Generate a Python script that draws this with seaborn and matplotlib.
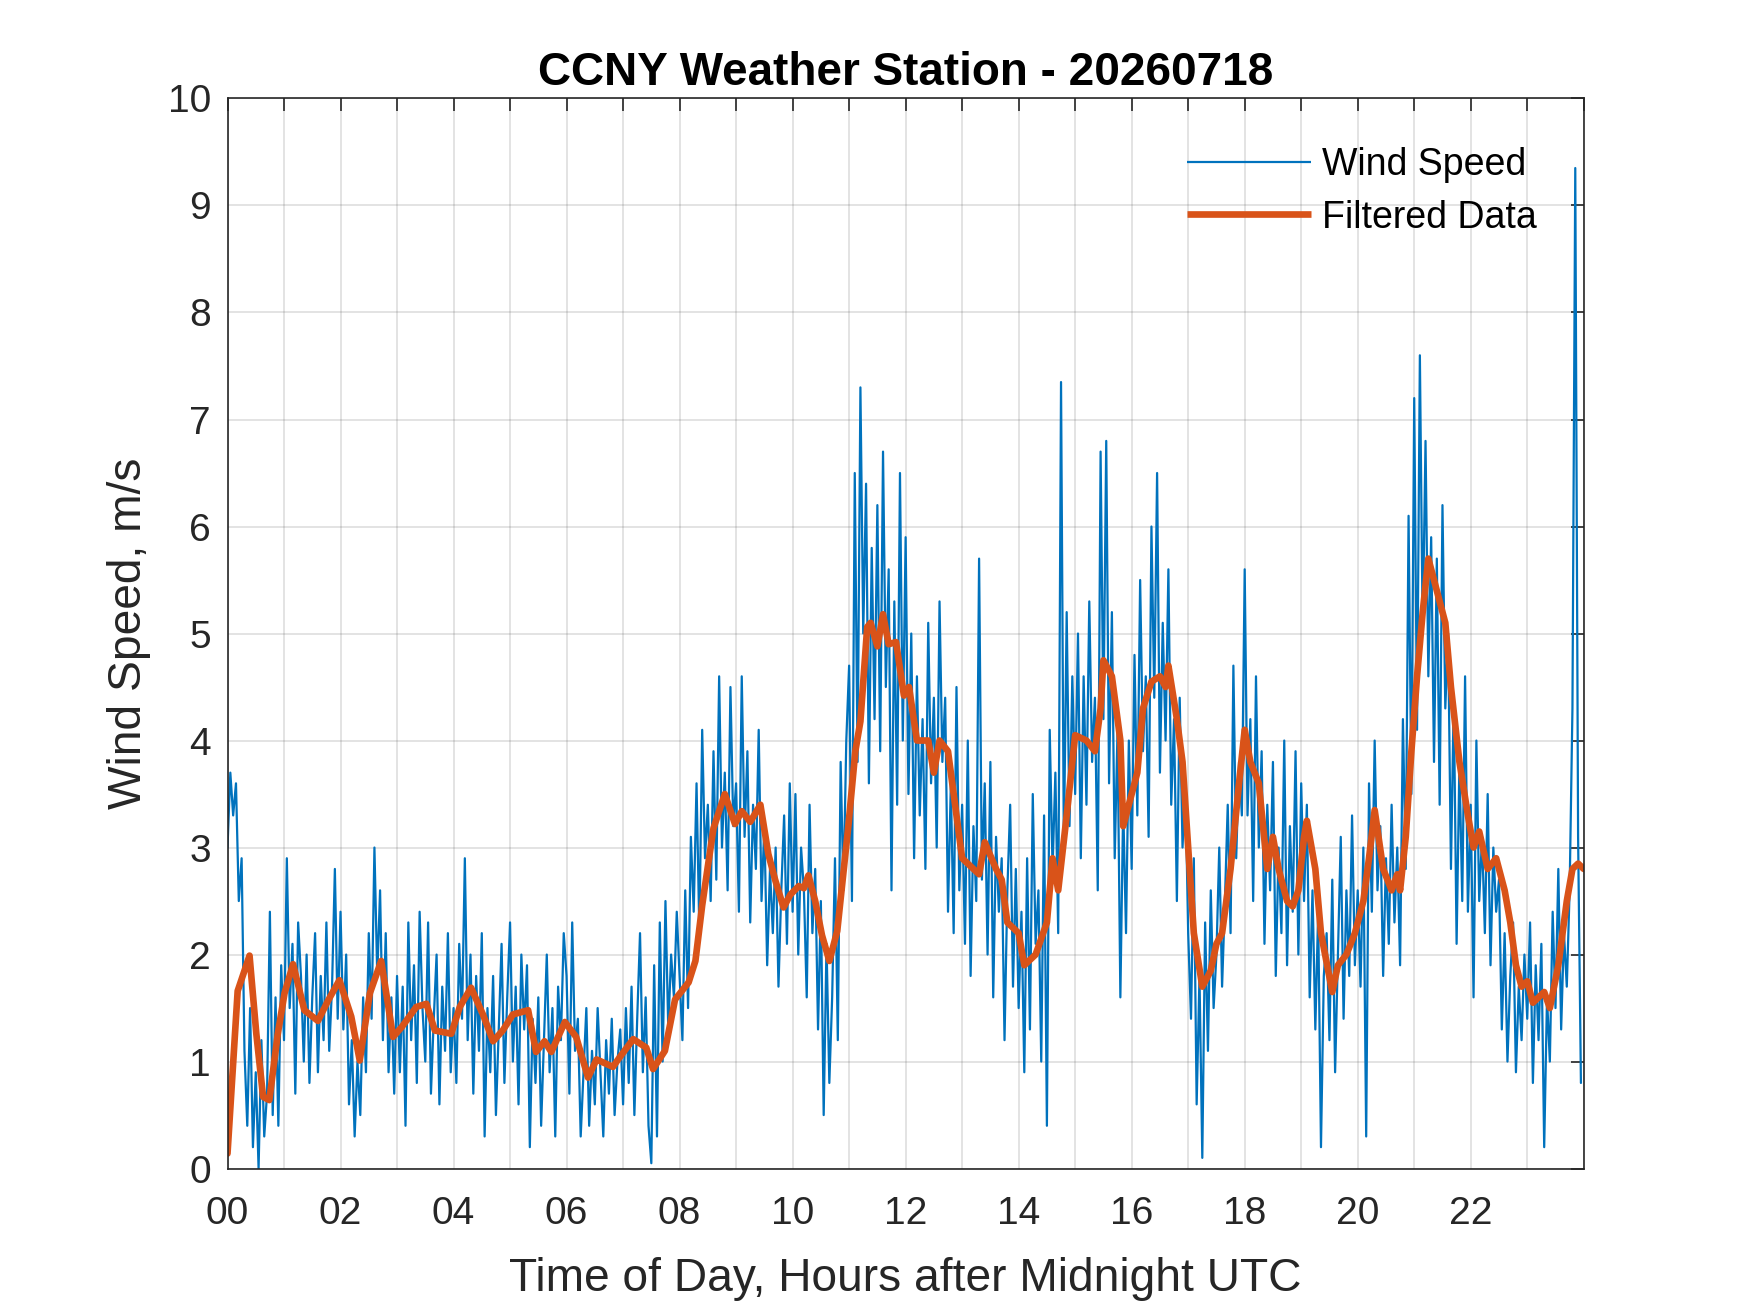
"""CCNY weather station wind speed for one day, raw and filtered."""
import numpy as np
import pandas as pd
import matplotlib
matplotlib.use("Agg")
import matplotlib.pyplot as plt
import seaborn as sns

# raw wind speed, m/s, one reading every 3 minutes (20 per hour)
wind_by_hour = [
    [3.0, 3.7, 3.3, 3.6, 2.5, 2.9, 1.1, 0.4, 1.5, 0.2, 0.9, 0.0, 1.2, 0.3, 0.7, 2.4, 0.5, 1.6, 0.4, 1.9],
    [1.2, 2.9, 1.5, 2.1, 0.7, 2.3, 1.8, 1.0, 2.0, 0.8, 1.6, 2.2, 0.9, 1.8, 1.2, 2.3, 1.1, 1.7, 2.8, 1.4],
    [2.4, 1.3, 2.0, 0.6, 1.2, 0.3, 1.0, 0.5, 1.6, 0.9, 2.2, 1.4, 3.0, 1.8, 2.6, 1.2, 2.2, 0.9, 1.6, 0.7],
    [1.8, 0.9, 1.7, 0.4, 2.3, 1.2, 1.9, 0.8, 2.4, 1.5, 1.0, 2.3, 0.7, 1.4, 2.0, 0.6, 1.7, 1.1, 2.2, 0.9],
    [1.5, 0.8, 2.1, 1.4, 2.9, 1.2, 2.0, 0.7, 1.8, 1.1, 2.2, 0.3, 1.5, 0.9, 1.8, 0.5, 1.3, 2.1, 0.8, 1.6],
    [2.3, 1.0, 1.7, 0.6, 2.0, 1.3, 1.9, 0.2, 1.4, 0.8, 1.6, 0.4, 1.2, 2.0, 0.9, 1.5, 0.3, 1.7, 1.2, 2.2],
    [1.8, 0.7, 2.3, 1.1, 1.4, 0.3, 0.9, 1.5, 0.4, 1.1, 0.6, 1.5, 0.9, 0.3, 1.2, 0.7, 1.4, 0.5, 1.0, 1.3],
    [0.6, 1.5, 0.8, 1.7, 0.5, 1.4, 2.2, 0.9, 1.6, 0.4, 0.05, 1.9, 0.3, 2.3, 1.0, 2.5, 1.3, 2.0, 1.6, 2.4],
    [1.8, 1.2, 2.6, 1.5, 3.1, 2.4, 3.6, 2.2, 4.1, 2.9, 3.4, 2.5, 3.9, 2.7, 4.6, 3.0, 3.7, 2.6, 4.5, 3.2],
    [3.6, 2.4, 4.6, 3.1, 3.9, 2.3, 3.4, 2.8, 4.1, 2.5, 3.2, 1.9, 2.8, 2.2, 3.0, 1.7, 2.6, 3.3, 2.1, 3.6],
    [2.4, 3.5, 2.0, 3.0, 2.6, 1.6, 3.4, 2.2, 2.8, 1.3, 2.5, 0.5, 2.1, 0.8, 1.6, 2.9, 1.2, 3.8, 2.6, 4.0],
    [4.7, 2.5, 6.5, 3.8, 7.3, 5.0, 6.4, 3.6, 5.8, 4.2, 6.2, 3.9, 6.7, 4.5, 5.6, 2.6, 5.3, 3.4, 6.5, 4.0],
    [5.9, 3.5, 5.0, 2.9, 4.6, 3.3, 4.2, 2.8, 5.1, 3.6, 4.4, 3.0, 5.3, 3.8, 4.4, 2.4, 3.6, 2.2, 4.5, 2.6],
    [3.4, 2.1, 4.0, 1.8, 3.2, 2.5, 5.7, 2.7, 3.6, 2.0, 3.8, 1.6, 3.1, 2.4, 2.9, 1.2, 2.6, 3.4, 1.7, 2.8],
    [1.5, 2.4, 0.9, 2.9, 1.3, 3.5, 2.1, 2.6, 1.0, 3.3, 0.4, 4.1, 2.8, 3.7, 2.2, 7.35, 3.0, 5.2, 3.2, 4.6],
    [3.5, 5.0, 2.9, 4.6, 3.4, 5.3, 3.8, 4.4, 2.6, 6.7, 4.2, 6.8, 3.6, 5.2, 2.9, 4.1, 1.6, 3.4, 2.2, 4.0],
    [2.8, 4.8, 3.3, 5.5, 3.9, 4.6, 3.1, 6.0, 4.4, 6.5, 3.7, 5.1, 4.0, 5.6, 3.4, 4.2, 2.5, 4.4, 3.0, 3.6],
    [2.2, 1.4, 2.9, 0.6, 1.8, 0.1, 2.3, 1.1, 2.6, 1.5, 2.0, 3.0, 1.7, 2.5, 3.4, 2.2, 4.7, 2.9, 3.8, 3.3],
    [5.6, 3.3, 4.2, 2.5, 4.6, 3.0, 3.9, 2.1, 3.4, 2.6, 3.8, 1.8, 3.0, 2.2, 4.0, 1.9, 3.2, 2.4, 3.9, 2.0],
    [3.6, 2.5, 3.4, 1.6, 2.6, 1.3, 2.4, 0.2, 1.8, 2.2, 1.2, 2.7, 0.9, 2.0, 3.1, 1.4, 2.6, 1.8, 3.3, 1.9],
    [2.6, 1.7, 3.0, 0.3, 3.6, 2.4, 4.0, 2.6, 3.2, 1.8, 2.9, 2.1, 3.4, 2.3, 3.0, 1.9, 4.2, 2.8, 6.1, 3.5],
    [7.2, 4.1, 7.6, 5.0, 6.8, 4.6, 5.9, 3.8, 5.7, 3.4, 6.2, 4.3, 5.0, 2.8, 4.4, 2.1, 3.8, 2.5, 4.6, 2.4],
    [3.4, 1.6, 4.0, 2.5, 3.1, 2.2, 3.5, 1.9, 3.0, 2.4, 2.7, 1.3, 2.2, 1.0, 1.8, 2.3, 0.9, 1.7, 1.2, 2.0],
    [1.4, 2.3, 0.8, 1.9, 1.2, 2.1, 0.2, 1.6, 1.0, 2.4, 1.5, 2.8, 1.3, 2.2, 1.7, 2.6, 4.3, 9.35, 3.1, 0.8],
]

# filtered curve: hours and m/s
filt_hours = [0.0, 0.18, 0.39, 0.51, 0.63, 0.74, 0.89, 1.01, 1.16, 1.36, 1.6, 1.78, 1.98,
              2.19, 2.34, 2.52, 2.72, 2.93, 3.08, 3.34, 3.52, 3.67, 3.96, 4.11, 4.31, 4.52,
              4.7, 4.87, 5.05, 5.32, 5.46, 5.61, 5.73, 5.97, 6.17, 6.38, 6.53, 6.82, 6.94,
              7.18, 7.41, 7.53, 7.74, 7.92, 8.16, 8.28, 8.4, 8.51, 8.6, 8.8, 8.98, 9.1,
              9.25, 9.43, 9.57, 9.69, 9.84, 9.96, 10.11, 10.2, 10.28, 10.4, 10.52, 10.65,
              10.79, 10.87, 10.99, 11.11, 11.2, 11.32, 11.38, 11.5, 11.6, 11.7, 11.83,
              11.97, 12.06, 12.2, 12.4, 12.5, 12.6, 12.75, 12.9, 13.0, 13.2, 13.3, 13.4,
              13.6, 13.7, 13.8, 13.9, 14.0, 14.1, 14.3, 14.5, 14.6, 14.7, 14.85, 15.0,
              15.2, 15.35, 15.45, 15.5, 15.65, 15.8, 15.85, 16.0, 16.1, 16.2, 16.35, 16.5,
              16.6, 16.65, 16.8, 16.9, 17.0, 17.1, 17.25, 17.4, 17.5, 17.6, 17.75, 17.9,
              18.0, 18.1, 18.25, 18.4, 18.5, 18.6, 18.75, 18.85, 18.95, 19.05, 19.1, 19.25,
              19.35, 19.55, 19.65, 19.8, 19.95, 20.1, 20.2, 20.3, 20.45, 20.6, 20.7, 20.75,
              20.85, 20.95, 21.05, 21.15, 21.25, 21.35, 21.55, 21.65, 21.8, 21.95, 22.05,
              22.15, 22.3, 22.45, 22.6, 22.7, 22.8, 22.9, 23.0, 23.1, 23.2, 23.3, 23.4,
              23.55, 23.7, 23.8, 23.9, 24.0]
filt_speed = [0.14, 1.66, 1.99, 1.26, 0.67, 0.64, 1.26, 1.64, 1.91, 1.48, 1.38, 1.57, 1.76,
              1.42, 1.01, 1.64, 1.94, 1.23, 1.32, 1.51, 1.54, 1.29, 1.26, 1.51, 1.69, 1.44,
              1.19, 1.29, 1.44, 1.48, 1.09, 1.19, 1.09, 1.37, 1.23, 0.85, 1.02, 0.95, 1.04,
              1.21, 1.13, 0.93, 1.1, 1.58, 1.74, 1.94, 2.46, 2.86, 3.18, 3.5, 3.22, 3.34,
              3.24, 3.4, 2.94, 2.7, 2.44, 2.56, 2.64, 2.62, 2.74, 2.5, 2.18, 1.94,
              2.22, 2.62, 3.22, 3.9, 4.18, 5.06, 5.1, 4.88, 5.18, 4.9, 4.92,
              4.42, 4.5, 4.0, 4.0, 3.7, 4.0, 3.9, 3.3, 2.9, 2.8, 2.75, 3.05,
              2.8, 2.7, 2.3, 2.25, 2.2, 1.9, 2.0, 2.3, 2.9, 2.6, 3.3, 4.05,
              4.0, 3.9, 4.3, 4.75, 4.6, 4.0, 3.2, 3.5, 3.7, 4.3, 4.55, 4.6,
              4.5, 4.7, 4.2, 3.8, 3.0, 2.2, 1.7, 1.85, 2.1, 2.2, 2.8, 3.6,
              4.1, 3.8, 3.6, 2.8, 3.1, 2.8, 2.5, 2.45, 2.6, 3.1, 3.25, 2.8,
              2.2, 1.65, 1.9, 2.0, 2.2, 2.5, 2.9, 3.35, 2.8, 2.6, 2.75, 2.6,
              3.1, 3.9, 4.6, 5.2, 5.7, 5.5, 5.1, 4.5, 3.8, 3.3, 3.0,
              3.15, 2.8, 2.9, 2.6, 2.3, 1.9, 1.7, 1.75, 1.55, 1.6, 1.65, 1.5,
              1.9, 2.5, 2.8, 2.85, 2.8]

hour_labels = ["00", "02", "04", "06", "08", "10", "12", "14", "16", "18", "20", "22"]

wind = np.concatenate(wind_by_hour)
raw = pd.DataFrame({"hours": np.arange(len(wind)) * 3 / 60, "speed": wind})
filt = pd.DataFrame({"hours": filt_hours, "speed": filt_speed})

sns.set_theme(style="white")
plt.rcParams["font.family"] = ["Liberation Sans", "DejaVu Sans"]
dark = "#262626"

fig = plt.figure(figsize=(8.75, 6.565), dpi=200)
ax = fig.add_axes([0.13, 0.11, 0.775, 0.815])
sns.lineplot(raw, x="hours", y="speed", ax=ax, color="#0072BD", linewidth=0.8,
             estimator=None, sort=False, label="Wind Speed")
sns.lineplot(filt, x="hours", y="speed", ax=ax, color="#D95319", linewidth=2.4,
             estimator=None, sort=False, label="Filtered Data")

ax.set_xlim(0, 24)
ax.set_ylim(0, 10)
ax.set_xticks(range(25))
ax.set_xticklabels([hour_labels[h // 2] if h % 2 == 0 and h < 24 else "" for h in range(25)])
ax.set_yticks(range(11))
ax.grid(True, color=dark, alpha=0.15, linewidth=0.6)
ax.tick_params(direction="in", length=4.8, width=0.6, colors=dark, labelsize=14,
               top=True, right=True, pad=6)
ax.tick_params(axis="x", pad=10)
for s in ax.spines.values():
    s.set_color(dark)
    s.set_linewidth(0.6)

ax.set_title("CCNY Weather Station - 20260718", fontsize=16.5, fontweight="bold",
             color="black", pad=5)
ax.set_xlabel("Time of Day, Hours after Midnight UTC", fontsize=16.6, color=dark, labelpad=9)
ax.set_ylabel("Wind Speed, m/s", fontsize=16.6, color=dark, labelpad=6)

leg = ax.legend(loc="upper right", frameon=False, fontsize=13.5, handlelength=3.3,
                handletextpad=0.3, labelspacing=0.45, borderaxespad=0.6,
                bbox_to_anchor=(0.993, 0.99))
for t in leg.get_texts():
    t.set_color("black")
for h in leg.get_lines():
    h.set_solid_capstyle("butt")

fig.savefig("out.png", dpi=200)
